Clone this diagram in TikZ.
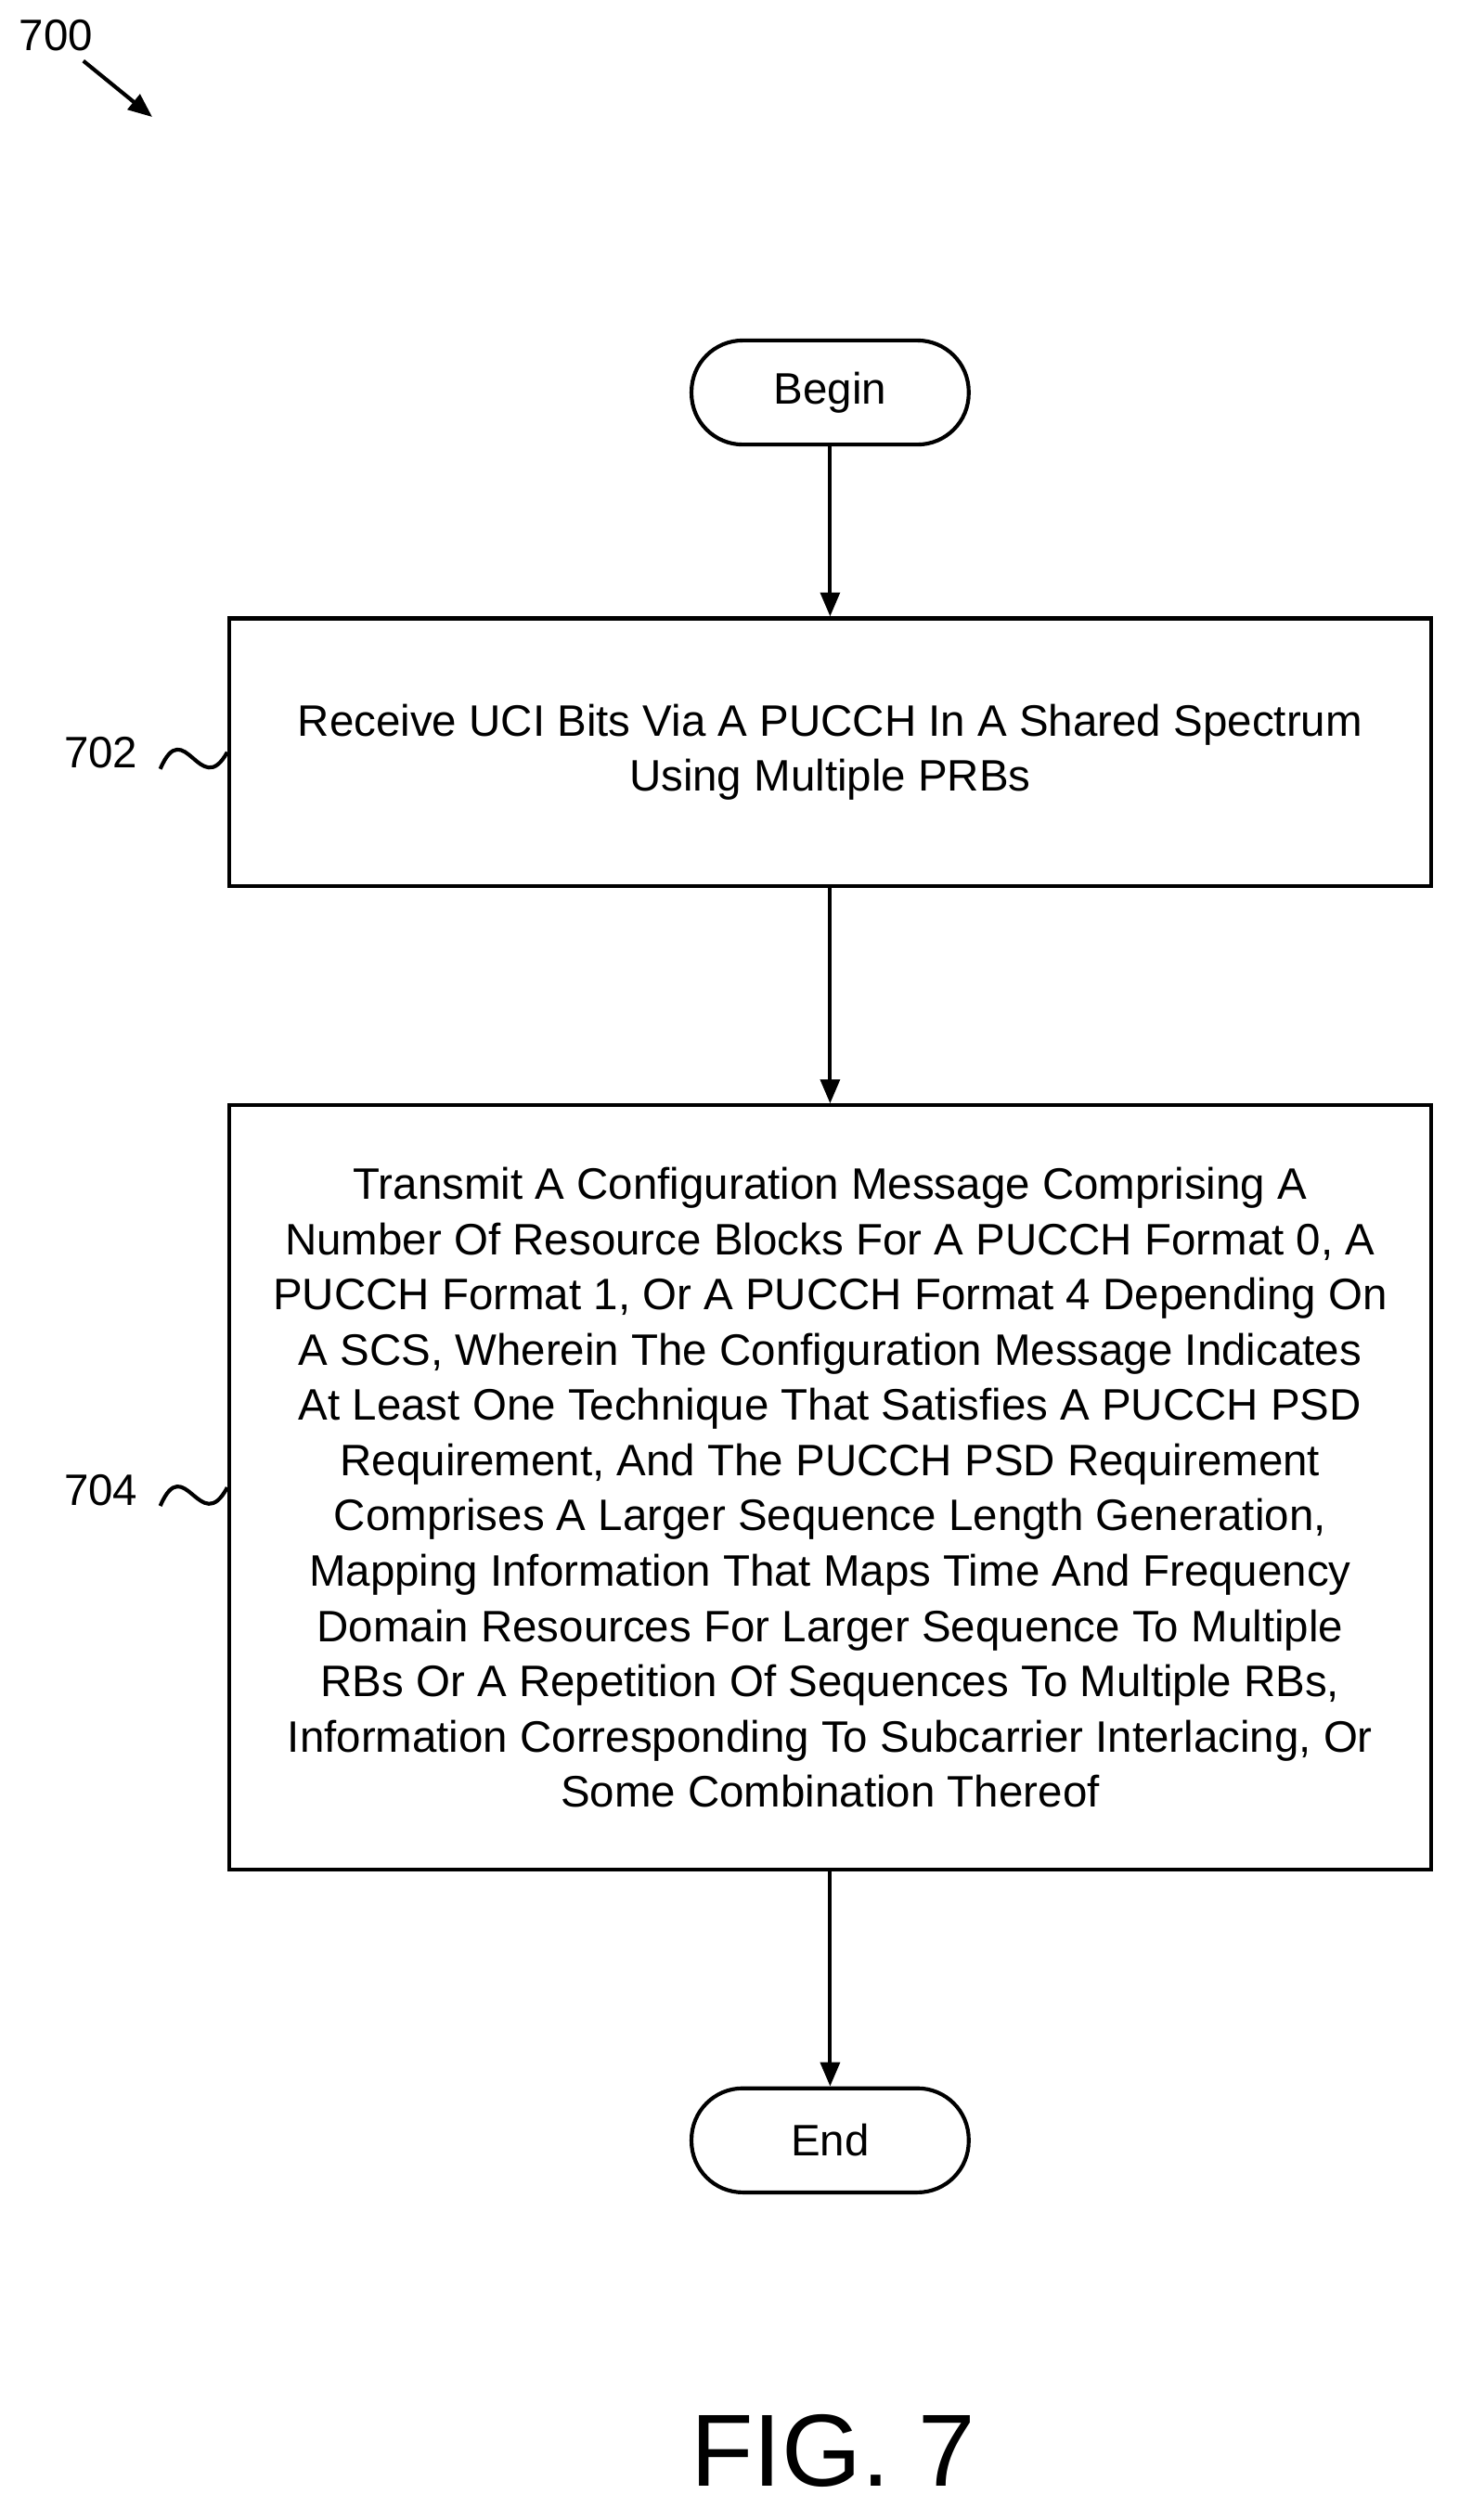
\documentclass[tikz,border=0pt]{standalone}
\usepackage{fontspec}
\setmainfont{Liberation Sans}
\usetikzlibrary{arrows.meta}
\begin{document}
\begin{tikzpicture}[x=1pt,y=-1pt,
  box/.style={draw,line width=2.4pt,align=center,font=\fontsize{27.5}{34.5}\selectfont},
  term/.style={draw,line width=2.4pt,rounded corners=32pt,minimum width=173pt,minimum height=65pt,font=\fontsize{27.5}{30}\selectfont},
  arr/.style={line width=2.4pt,-{Triangle[length=15pt,width=12pt]}},
  lbl/.style={font=\fontsize{27.5}{30}\selectfont}]
\useasboundingbox (0,0) rectangle (910,1573);
\node[term] (begin) at (518,245) {Begin};
\node[box,minimum width=750pt,minimum height=167pt] (b1) at (518,469.5) {Receive UCI Bits Via A PUCCH In A Shared Spectrum\\Using Multiple PRBs};
\node[box,minimum width=750pt,minimum height=477pt] (b2) at (518,928.5) {Transmit A Configuration Message Comprising A\\Number Of Resource Blocks For A PUCCH Format 0, A\\PUCCH Format 1, Or A PUCCH Format 4 Depending On\\A SCS, Wherein The Configuration Message Indicates\\At Least One Technique That Satisfies A PUCCH PSD\\Requirement, And The PUCCH PSD Requirement\\Comprises A Larger Sequence Length Generation,\\Mapping Information That Maps Time And Frequency\\Domain Resources For Larger Sequence To Multiple\\RBs Or A Repetition Of Sequences To Multiple RBs,\\Information Corresponding To Subcarrier Interlacing, Or\\Some Combination Thereof};
\node[term] (end) at (518,1336) {End};
\draw[arr] (begin) -- (b1);
\draw[arr] (b1) -- (b2);
\draw[arr] (b2) -- (end);
\node[lbl] (l702) at (63,470) {702};
\node[lbl] (l704) at (63,930) {704};
\coordinate (s1) at (100,480);
\coordinate (s2) at (100,940);
\draw[line width=2.4pt] (s1) .. controls (115,445) and (125,500) .. (b1.west);
\draw[line width=2.4pt] (s2) .. controls (115,905) and (125,960) .. (b2.west);
\node[lbl] (l700) at (35,22) {700};
\coordinate (a0) at (52,38);
\coordinate (a1) at (95,73);
\draw[arr] (a0) -- (a1);
\node[font=\fontsize{64}{70}\selectfont] (fig) at (520,1530) {FIG. 7};
\end{tikzpicture}
\end{document}
